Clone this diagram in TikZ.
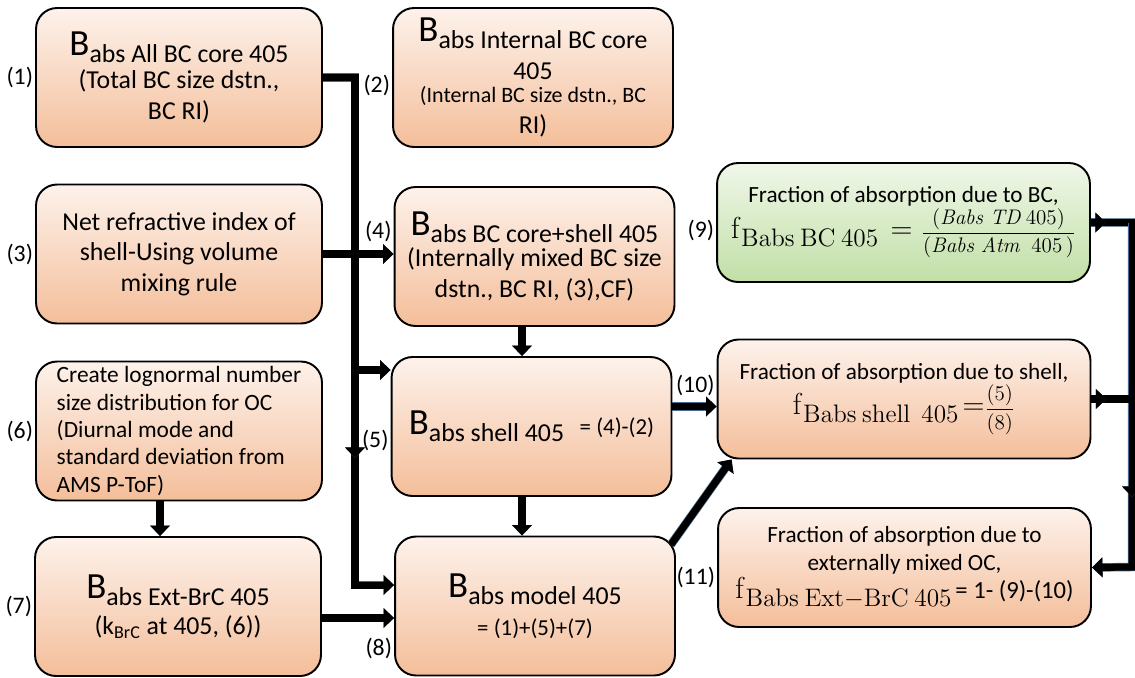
\documentclass[tikz,border=0pt]{standalone}
\usepackage[no-math]{fontspec}
\setmainfont{Carlito}
\usetikzlibrary{arrows.meta,positioning}
\definecolor{peachtop}{RGB}{253,242,235}
\definecolor{peachbot}{RGB}{244,190,154}
\definecolor{greentop}{RGB}{240,247,233}
\definecolor{greenbot}{RGB}{193,223,166}
\definecolor{edgeblue}{RGB}{70,105,145}
\tikzset{
  box/.style={draw=black,line width=1.1pt,rounded corners=0.42cm,top color=peachtop,bottom color=peachbot,
    minimum width=5.6cm,minimum height=2.78cm,align=center,inner sep=1pt,font=\fontsize{14.7}{17.5}\selectfont},
  lbox/.style={box,minimum width=5.72cm},
  fbox/.style={box,minimum width=7.46cm,minimum height=2.38cm,font=\fontsize{13.2}{16}\selectfont},
  gbox/.style={top color=greentop,bottom color=greenbot},
  num/.style={font=\fontsize{13.5}{15}\selectfont,inner sep=1pt},
  bar/.style={line width=4pt,preaction={draw=edgeblue,line width=4.8pt}},
  flow/.style={bar,-{Triangle[length=6pt,width=11pt]}},
}
\newcommand{\Babs}[1]{{\fontsize{21}{23}\selectfont B}\raisebox{-0.55ex}{abs #1}}
\newcommand{\fabs}[1]{{\fontsize{19}{20}\selectfont$\mathrm{f}$}\raisebox{-0.7ex}{\fontsize{14}{15}\selectfont$\mathrm{#1}$}}
\begin{document}
\begin{tikzpicture}[x=0.02cm,y=-0.02cm]
  \useasboundingbox (0,0) rectangle (1135,677);
  \node[lbox] (b1) at (179,77.5) {\Babs{All BC core 405}\\[1pt] (Total BC size dstn.,\\ BC RI)};
  \node[box] (b2) at (533,77.5) {\Babs{Internal BC core}\\[4pt] 405\\[-4pt] \fontsize{12.5}{15}\selectfont (Internal BC size dstn., BC\\ RI)};
  \node[lbox] (b3) at (179,254) {Net refractive index of\\ shell-Using volume\\ mixing rule};
  \node[box] (b4) at (534.5,256.5) {\Babs{BC core+shell 405}\\ (Internally mixed BC size\\ dstn., BC RI, (3),CF)};
  \node[box] (b5) at (531.5,426.5) {\Babs{shell 405}\hspace{0.6em}{\fontsize{13}{14}\selectfont = (4)-(2)}};
  \node[lbox,align=left,font=\fontsize{13.3}{15.6}\selectfont] (b6) at (179,431) {Create lognormal number\\ size distribution for OC\\ (Diurnal mode and\\ standard deviation from\\ AMS P-ToF)};
  \node[lbox] (b7) at (178,606.5) {\Babs{Ext-BrC 405}\\[3pt] (k\textsubscript{BrC} at 405, (6))};
  \node[box] (b8) at (535,606) {\Babs{model 405}\\[4pt] \fontsize{13}{15.5}\selectfont = (1)+(5)+(7)};
  \node[fbox,gbox] (b9) at (903.5,222.5) {Fraction of absorption due to BC,\\ \fabs{Babs\ BC\ 405}\,{\fontsize{19}{20}\selectfont$\;=\;$}{\fontsize{13}{15}\selectfont$\displaystyle\frac{(\mathit{Babs\ TD}\,405)}{(\mathit{Babs\ Atm}\ \ 405\,)}$}};
  \node[fbox] (b10) at (904,399) {Fraction of absorption due to shell,\\ \fabs{Babs\ shell\ \ 405}\,{\fontsize{19}{20}\selectfont$=$}{\fontsize{12}{13}\selectfont$\displaystyle\frac{(5)}{(8)}$}};
  \node[fbox] (b11) at (904.5,567.5) {Fraction of absorption due to\\ externally mixed OC,\\ \fabs{Babs\ Ext{-}BrC\ 405}\,{\fontsize{14}{15}\selectfont = 1- (9)-(10)}};
  \node[num,anchor=east] (n1) at (b1.west) {(1)};
  \node[num,anchor=east] (n2) at ([yshift=-0.15cm]b2.west) {(2)};
  \node[num,anchor=east] (n3) at (b3.west) {(3)};
  \node[num,anchor=east] (n4) at ([yshift=0.5cm]b4.west) {(4)};
  \node[num,anchor=east] (n5) at ([yshift=-0.27cm]b5.west) {(5)};
  \node[num,anchor=east] (n6) at (b6.west) {(6)};
  \node[num,anchor=east] (n7) at (b7.west) {(7)};
  \node[num,anchor=east] (n8) at ([yshift=-0.84cm]b8.west) {(8)};
  \node[num,anchor=east] (n9) at ([yshift=-0.15cm]b9.west) {(9)};
  \node[num,anchor=east] (n10) at ([yshift=0.28cm]b10.west) {(10)};
  \node[num,anchor=east] (n11) at ([yshift=-0.2cm]b11.west) {(11)};
  \coordinate (lb) at (355,585);
  \coordinate (lm) at (355,370);
  \coordinate (la) at (355,458);
  \coordinate (o4) at ([xshift=-0.25cm]b4.south);
  \coordinate (o5) at ([yshift=0.4cm]b5.east);
  \coordinate (s5) at ([xshift=-0.19cm]b5.south);
  \coordinate (o6) at ([xshift=-0.38cm]b6.south);
  \coordinate (o7) at ([yshift=-0.23cm]b7.east);
  \coordinate (o8) at ([xshift=-0.1cm,yshift=-0.18cm]b8.north east);
  \coordinate (i10) at ([xshift=0.3cm]b10.south west);
  \coordinate (rb) at (1132,567);
  \coordinate (ra) at (1132,497);
  \coordinate (t9) at ([xshift=0.3cm]b9.east);
  \coordinate (t10) at ([xshift=0.3cm]b10.east);
  \draw[flow] (b1.east) -| (lb) -- (lb -| b8.west);
  \draw[flow] (b1.east -| lb) -- (la);
  \draw[flow] (lm) -- (lm -| b5.west);
  \draw[flow] (b3.east) -- (b3.east -| b4.west);
  \draw[flow] (o4) -- (o4 |- b5.north);
  \draw[flow] (s5) -- (s5 |- b8.north);
  \draw[flow] (o5) -- (o5 -| b10.west);
  \draw[flow] (o8) -- (i10);
  \draw[flow] (o6) -- (o6 |- b7.north);
  \draw[flow] (o7) -- (o7 -| b8.west);
  \draw[flow] (b9.east) -| (rb) -- (b11.east);
  \draw[flow] (b9.east -| rb) -- (ra);
  \draw[bar] (b10.east) -- (b10.east -| rb);
  \draw[flow] (b9.east) -- (t9);
  \draw[flow] (b10.east) -- (t10);
\end{tikzpicture}
\end{document}
